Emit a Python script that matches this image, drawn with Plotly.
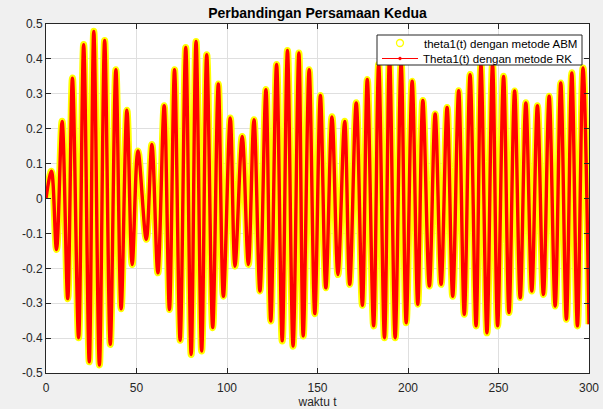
import plotly.graph_objects as go

# Extrema of theta1(t) (time, value)
t_ext = [0.0, 3.0, 5.8, 8.9, 12.0, 14.6, 18.0, 20.8, 23.9, 26.4, 29.5, 32.4, 35.5, 38.6,
         41.5, 44.7, 47.6, 50.8, 55.4, 58.5, 61.8, 65.3, 68.2, 71.0, 74.1, 77.2, 80.2,
         82.9, 86.0, 88.8, 92.1, 95.2, 98.0, 101.8, 104.4, 108.4, 111.8, 114.9, 118.2,
         121.5, 124.2, 127.4, 130.5, 133.4, 136.5, 139.7, 142.1, 145.4, 148.5, 151.6,
         154.6, 158.0, 161.3, 165.0, 167.8, 171.4, 174.8, 177.5, 181.0, 183.8, 187.0,
         189.8, 192.9, 196.2, 199.0, 202.3, 205.4, 208.2, 211.8, 215.0, 218.3, 221.6,
         224.7, 228.0, 231.1, 234.3, 237.6, 240.3, 243.6, 246.7, 249.5, 252.8, 255.8,
         258.9, 262.0, 265.1, 268.4, 271.5, 274.8, 278.0, 281.3, 284.4, 287.5, 290.5,
         293.6, 296.7, 300.0]
theta_abm = [0.0, 0.078, -0.146, 0.221, -0.287, 0.345, -0.399, 0.441, -0.468, 0.479, -0.477,
             0.453, -0.418, 0.369, -0.316, 0.253, -0.189, 0.136, -0.117, 0.155, -0.213,
             0.266, -0.318, 0.369, -0.406, 0.433, -0.447, 0.450, -0.437, 0.412, -0.370,
             0.328, -0.280, 0.231, -0.194, 0.178, -0.189, 0.226, -0.265, 0.312, -0.351,
             0.384, -0.408, 0.424, -0.423, 0.417, -0.394, 0.369, -0.330, 0.295, -0.256,
             0.234, -0.218, 0.221, -0.246, 0.274, -0.306, 0.341, -0.365, 0.385, -0.399,
             0.405, -0.399, 0.390, -0.356, 0.336, -0.303, 0.281, -0.251, 0.242, -0.246,
             0.261, -0.280, 0.309, -0.332, 0.355, -0.365, 0.385, -0.385, 0.385, -0.365,
             0.350, -0.327, 0.308, -0.284, 0.274, -0.265, 0.266, -0.275, 0.293, -0.308,
             0.331, -0.346, 0.360, -0.365, 0.374, -0.360]
theta_rk = list(theta_abm)

x_tick_vals = [0, 50, 100, 150, 200, 250, 300]
x_tick_text = ["0", "50", "100", "150", "200", "250", "300"]
y_tick_vals = [0.5, 0.4, 0.3, 0.2, 0.1, 0, -0.1, -0.2, -0.3, -0.4, -0.5]
y_tick_text = ["0.5", "0.4", "0.3", "0.2", "0.1", "0", "-0.1", "-0.2", "-0.3", "-0.4", "-0.5"]

title_text = "Perbandingan Persamaan Kedua"
xlabel = "waktu t"
name_abm = "theta1(t) dengan metode ABM"
name_rk = "Theta1(t) dengan metode RK"

FONT = "Liberation Sans, Arial, Helvetica, sans-serif"
DARK = "#262626"
YEL = "#ffff00"
RED = "#ff0000"

# layout geometry (pixels)
W, H = 603, 409
ML, MR, MT, MB = 46, 14, 24, 36
PW, PH = W - ML - MR, H - MT - MB


def px(xp):
    return (xp - ML) / PW


def py(yp):
    return (H - MB - yp) / PH


fig = go.Figure()
fig.add_trace(go.Scatter(x=t_ext, y=theta_abm, mode="lines", name=name_abm,
                         line=dict(color=YEL, width=7, shape="spline", smoothing=1.0),
                         hoverinfo="skip"))
fig.add_trace(go.Scatter(x=t_ext, y=theta_rk, mode="lines", name=name_rk,
                         line=dict(color=RED, width=3.4, shape="spline", smoothing=1.0),
                         hoverinfo="skip"))

axis_common = dict(showline=True, linecolor=DARK, linewidth=1, mirror="ticks",
                   ticks="inside", ticklen=5, tickcolor=DARK, tickwidth=1,
                   showgrid=True, gridcolor="#dfdfdf", gridwidth=1, zeroline=False,
                   tickfont=dict(family=FONT, size=12, color=DARK))

fig.update_xaxes(range=[0, 300], tickmode="array", tickvals=x_tick_vals, ticktext=x_tick_text,
                 ticklabelstandoff=4,
                 title=dict(text=xlabel, font=dict(family=FONT, size=12, color=DARK), standoff=13),
                 **axis_common)
fig.update_yaxes(range=[-0.5, 0.5], tickmode="array", tickvals=y_tick_vals, ticktext=y_tick_text,
                 **axis_common)

# legend box (drawn as shapes/annotations to match the compact legend)
shapes = [
    dict(type="rect", xref="paper", yref="paper", x0=px(377), x1=px(582), y0=py(65), y1=py(35),
         fillcolor="#ffffff", line=dict(color=DARK, width=1), layer="above"),
    dict(type="circle", xref="paper", yref="paper", x0=px(396.5), x1=px(403.5),
         y0=py(46.5), y1=py(39.5), line=dict(color=YEL, width=1.3), layer="above"),
    dict(type="line", xref="paper", yref="paper", x0=px(382), x1=px(418),
         y0=py(58.5), y1=py(58.5), line=dict(color=RED, width=1), layer="above"),
    dict(type="circle", xref="paper", yref="paper", x0=px(398.6), x1=px(401.4),
         y0=py(59.9), y1=py(57.1), fillcolor=RED, line=dict(color=RED, width=0.5), layer="above"),
]
annotations = [
    dict(text=name_abm, xref="paper", yref="paper", x=px(422), y=py(43.5), xanchor="left",
         yanchor="middle", showarrow=False, font=dict(family=FONT, size=11.5, color="#000000")),
    dict(text=name_rk, xref="paper", yref="paper", x=px(421), y=py(58.5), xanchor="left",
         yanchor="middle", showarrow=False, font=dict(family=FONT, size=11.5, color="#000000")),
]

fig.update_layout(
    width=W, height=H,
    margin=dict(l=ML, r=MR, t=MT, b=MB, autoexpand=False),
    paper_bgcolor="#f0f0f0", plot_bgcolor="#ffffff",
    title=dict(text="<b>" + title_text + "</b>", x=(ML + W - MR) / 2 / W, xanchor="center",
               y=1 - 13 / H, yanchor="middle", yref="container", xref="container",
               font=dict(family=FONT, size=14, color="#000000")),
    showlegend=False,
    shapes=shapes,
    annotations=annotations,
)

fig.write_html("out.html")
